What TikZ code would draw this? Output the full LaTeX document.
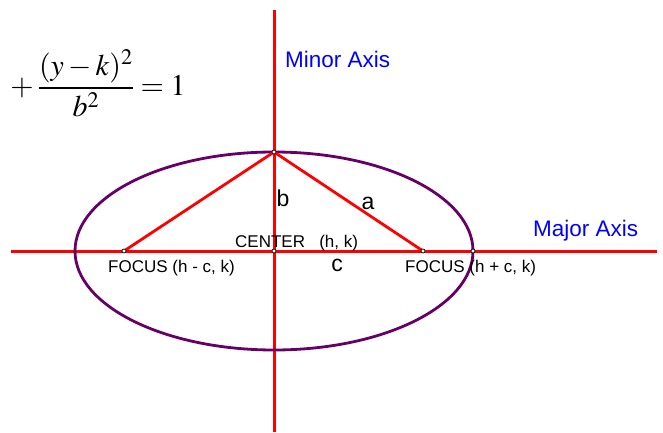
\documentclass[tikz,border=0pt]{standalone}
\usepackage{mathptmx}
\usepackage[no-math]{fontspec}
\setmainfont{Liberation Sans}
\usetikzlibrary{positioning}

\begin{document}
\begin{tikzpicture}[x=1pt, y=1pt, every node/.style={inner sep=0pt},
	axis/.style={red, line width=3pt},
	leg/.style={red, line width=2.8pt},
	pt/.style={draw=black, fill=white, line width=0.7pt},
	lbl/.style={font=\fontsize{17}{20}\selectfont},
	axlbl/.style={blue, font=\fontsize{22.5}{26}\selectfont},
	side/.style={font=\fontsize{23}{27}\selectfont}]
	\useasboundingbox (0,0) rectangle (663,432);
	\coordinate (center) at (274,181);
	\coordinate (majL) at (11,181);
	\coordinate (majR) at (657,181);
	\coordinate (minT) at (274,422);
	\coordinate (minB) at (274,0);
	\coordinate (focL) at (124,181);
	\coordinate (focR) at (423,181);
	\coordinate (vtx) at (274,280);
	\coordinate (edge) at (473,181);
	\draw[axis] (majL) -- (majR);
	\draw[axis] (minB) -- (minT);
	\draw[violet!80!black, line width=2.8pt] (center) ellipse (199 and 99);
	\draw[leg] (focL) -- (vtx) -- (focR);
	\foreach \p in {focL, center, focR, vtx, edge}
		\draw[pt] (\p) circle (2pt);
	% text labels
	\node[axlbl, anchor=base west] (minor) at (285,364) {Minor Axis};
	\node[axlbl, anchor=base west] (major) at (533,196) {Major Axis};
	\node[lbl, anchor=base west] (ctr) at (235,185) {CENTER~~~(h, k)};
	\node[lbl, anchor=base west] (fl) at (108,160) {FOCUS (h - c, k)};
	\node[lbl, anchor=base west] (fr) at (405,160) {FOCUS (h + c, k)};
	\node[side, anchor=base] (b) at (283,226) {b};
	\node[side, anchor=base] (a) at (368,223) {a};
	\node[side, anchor=base] (c) at (337,161) {c};
	\node[anchor=west, font=\fontsize{30}{33}\selectfont] (eq) at (6,349)
		{$\displaystyle {}+\frac{(y-k)^2}{b^2}=1$};
\end{tikzpicture}
\end{document}
